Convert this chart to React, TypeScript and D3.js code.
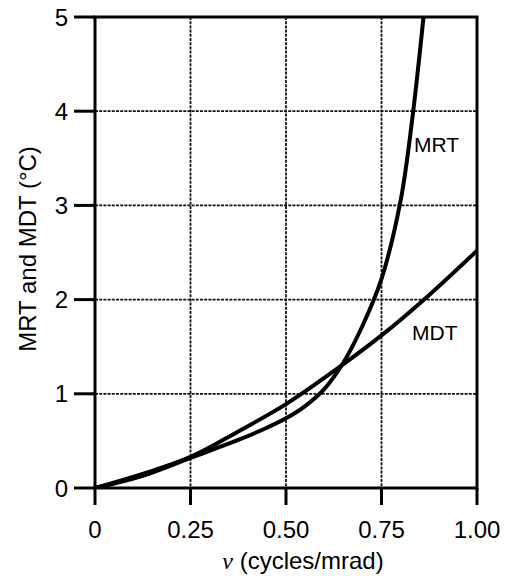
import React from "react";
import * as d3 from "d3";

const xTicks = [0, 0.25, 0.5, 0.75, 1.0];
const xTickLabels = ["0", "0.25", "0.50", "0.75", "1.00"];
const yTicks = [0, 1, 2, 3, 4, 5];

const mdtNu = [0, 0.125, 0.25, 0.375, 0.5, 0.625, 0.75, 0.875, 1.0];
const mdtVal = [0, 0.15, 0.33, 0.6, 0.89, 1.24, 1.62, 2.05, 2.52];

const mrtNu = [0, 0.125, 0.25, 0.375, 0.45, 0.5, 0.55, 0.6, 0.65, 0.7, 0.75, 0.8, 0.83, 0.86];
const mrtVal = [0, 0.13, 0.32, 0.51, 0.64, 0.74, 0.87, 1.05, 1.33, 1.72, 2.22, 3.05, 3.9, 5.0];

const W = 514, H = 576;
const L = 95, R = 477, T = 17, B = 488;

export default function App() {
  const x = d3.scaleLinear().domain([0, 1]).range([L, R]);
  const y = d3.scaleLinear().domain([0, 5]).range([B, T]);
  const line = d3.line<[number, number]>().x(d => x(d[0])).y(d => y(d[1])).curve(d3.curveCatmullRom.alpha(0.5));
  const mdt = mdtNu.map((v, i) => [v, mdtVal[i]] as [number, number]);
  const mrt = mrtNu.map((v, i) => [v, mrtVal[i]] as [number, number]);
  const font = "Liberation Sans, Arial, sans-serif";
  return (
    <svg width={W} height={H} style={{ position: "absolute", left: 0, top: 0, background: "#fff" }} fontFamily={font}>
      <defs>
        <clipPath id="plot"><rect x={L} y={T - 2} width={R - L} height={B - T + 2} /></clipPath>
      </defs>
      {/* grid */}
      {xTicks.slice(1, -1).map(t => (
        <line key={"gx" + t} x1={x(t)} x2={x(t)} y1={T} y2={B} stroke="#111" strokeWidth={1.8} strokeDasharray="3 1.2" />
      ))}
      {yTicks.slice(1, -1).map(t => (
        <line key={"gy" + t} x1={L} x2={R} y1={y(t)} y2={y(t)} stroke="#111" strokeWidth={1.8} strokeDasharray="3 1.2" />
      ))}
      {/* frame */}
      <rect x={L} y={T} width={R - L} height={B - T} fill="none" stroke="#000" strokeWidth={3} />
      {/* ticks */}
      {xTicks.map(t => (
        <line key={"tx" + t} x1={x(t)} x2={x(t)} y1={B} y2={B + 17} stroke="#000" strokeWidth={3} />
      ))}
      {yTicks.map(t => (
        <line key={"ty" + t} x1={L - 21} x2={L} y1={y(t)} y2={y(t)} stroke="#000" strokeWidth={3} />
      ))}
      {/* curves */}
      <g clipPath="url(#plot)">
        <path d={line(mdt) || ""} fill="none" stroke="#000" strokeWidth={4} />
        <path d={line(mrt) || ""} fill="none" stroke="#000" strokeWidth={4} />
      </g>
      {/* tick labels */}
      {xTicks.map((t, i) => (
        <text key={"lx" + t} x={x(t)} y={538} textAnchor="middle" fontSize={24}>{xTickLabels[i]}</text>
      ))}
      {yTicks.map(t => (
        <text key={"ly" + t} x={68} y={y(t) + 8.5} textAnchor="end" fontSize={24}>{t}</text>
      ))}
      {/* labels */}
      <text x={414} y={152} fontSize={21}>MRT</text>
      <text x={412} y={340} fontSize={21}>MDT</text>
      <text x={303} y={569} textAnchor="middle" fontSize={24}>
        <tspan fontStyle="italic" fontFamily="Liberation Serif, Times New Roman, serif">ν</tspan> (cycles/mrad)
      </text>
      <text transform={`translate(36,249) rotate(-90)`} textAnchor="middle" fontSize={24}>MRT and MDT (°C)</text>
    </svg>
  );
}
